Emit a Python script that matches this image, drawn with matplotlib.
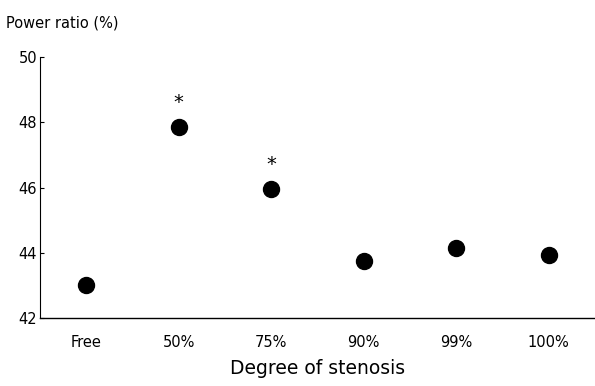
import matplotlib.pyplot as plt
import numpy as np

# Power ratio by degree of stenosis
categories = ['Free', '50%', '75%', '90%', '99%', '100%']
power_ratio = [43.0, 47.85, 45.95, 43.75, 44.15, 43.93]
significant = [False, True, True, False, False, False]
y_ticks = [42, 44, 46, 48, 50]

fig = plt.figure(figsize=(5.95, 3.86), dpi=100)
ax = fig.add_axes([0.067, 0.176, 0.933, 0.676])

x = np.arange(len(categories))
ax.plot(x, power_ratio, 'o', color='black', markersize=11.5, linestyle='none')

# Asterisks above significant points
for xi, yi, sig in zip(x, power_ratio, significant):
    if sig:
        ax.annotate('*', (xi, yi), xytext=(0, 18), textcoords='offset points',
                    ha='center', va='center', fontsize=14, color='black')

ax.set_xlim(-0.5, len(categories) - 0.5)
ax.set_ylim(42, 50)
ax.set_yticks(y_ticks)
ax.set_xticks(x)
ax.set_xticklabels(categories, fontsize=10.5)
ax.tick_params(axis='x', length=0, pad=12)
ax.tick_params(axis='y', direction='in', length=3, labelsize=10.5, pad=2)

ax.spines['top'].set_visible(False)
ax.spines['right'].set_visible(False)
ax.spines['left'].set_linestyle((0, (2, 1)))
ax.spines['left'].set_linewidth(0.8)
ax.spines['bottom'].set_linewidth(1.0)

ax.set_xlabel('Degree of stenosis', fontsize=13.5, labelpad=7)
fig.text(0.01, 0.94, 'Power ratio (%)', fontsize=10.5, ha='left', va='center')

fig.savefig('out.png', dpi=100)
